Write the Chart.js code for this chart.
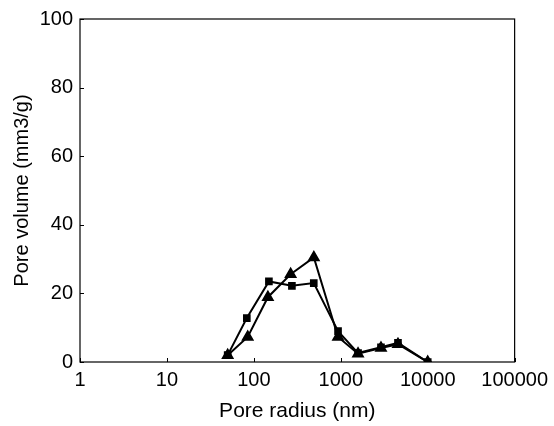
<!DOCTYPE html>
<html>
<head>
<meta charset="utf-8">
<script src="https://cdn.jsdelivr.net/npm/chart.js@4"></script>
<style>
  html, body { margin: 0; padding: 0; background: #fff; }
  #wrap { width: 554px; height: 426px; }
</style>
</head>
<body>
<div id="wrap"><canvas id="mycanvas" width="554" height="426"></canvas></div>
<script>
// pore radius (nm) and pore volume (mm3/g)
var radius = [50, 83, 149, 274, 489, 930, 1580, 2900, 4550, 10000];
var squares = [2, 12.8, 23.5, 22.2, 23, 9, 2.6, 4.3, 5.6, 0];
var triRadius = [50, 85, 145, 265, 490, 930, 1580, 2900, 4550, 10000];
var triangles = [2, 7.3, 18.9, 25.6, 30.5, 7.3, 2.4, 4.1, 5.2, 0];
var xTicks = [1, 10, 100, 1000, 10000, 100000];
var yTicks = [0, 20, 40, 60, 80, 100];

var font = "'Liberation Sans', Arial, Helvetica, sans-serif";

function pts(xs, ys) {
  var out = [];
  for (var i in xs) out.push({ x: xs[i], y: ys[i] });
  return out;
}

// frame box + short inward tick marks
var framePlugin = {
  id: 'frame',
  afterDraw: function(chart) {
    var c = chart.ctx, a = chart.chartArea;
    var sx = chart.scales.x, sy = chart.scales.y;
    c.save();
    c.strokeStyle = '#000';
    c.lineWidth = 1.2;
    c.strokeRect(a.left, a.top, a.right - a.left, a.bottom - a.top);
    c.lineWidth = 1;
    c.beginPath();
    xTicks.forEach(function(v) {
      var px = Math.round(sx.getPixelForValue(v)) + 0.5;
      c.moveTo(px, a.bottom); c.lineTo(px, a.bottom - 4);
    });
    yTicks.forEach(function(v) {
      var py = Math.round(sy.getPixelForValue(v)) + 0.5;
      c.moveTo(a.left, py); c.lineTo(a.left + 4, py);
    });
    c.stroke();
    c.restore();
  }
};

var ctx = document.getElementById('mycanvas').getContext('2d');
var chart = new Chart(ctx, {
  type: 'line',
  data: {
    datasets: [
      {
        label: 'squares',
        data: pts(radius, squares),
        borderColor: '#000',
        backgroundColor: '#000',
        borderWidth: 2,
        pointStyle: 'rect',
        pointRadius: 4,
        fill: false,
        tension: 0
      },
      {
        label: 'triangles',
        data: pts(triRadius, triangles),
        borderColor: '#000',
        backgroundColor: '#000',
        borderWidth: 2,
        pointStyle: 'triangle',
        pointRadius: 5.5,
        fill: false,
        tension: 0
      }
    ]
  },
  options: {
    responsive: false,
    animation: false,
    layout: { padding: { left: 0, right: 38, top: 17, bottom: 0 } },
    plugins: { legend: { display: false }, tooltip: { enabled: false } },
    scales: {
      x: {
        type: 'logarithmic',
        min: 1, max: 100000,
        afterBuildTicks: function(s) { s.ticks = xTicks.map(function(v) { return { value: v }; }); },
        afterFit: function(s) { s.height = 64; },
        grid: { display: false, drawTicks: false },
        border: { display: false },
        ticks: {
          color: '#000', padding: 6, maxRotation: 0, autoSkip: false,
          font: { family: font, size: 20 },
          callback: function(v) { return String(v); }
        },
        title: { display: true, text: 'Pore radius (nm)', color: '#000', font: { family: font, size: 21 }, padding: { top: 4, bottom: 2 } }
      },
      y: {
        min: 0, max: 100,
        afterBuildTicks: function(s) { s.ticks = yTicks.map(function(v) { return { value: v }; }); },
        afterFit: function(s) { s.width = 80; },
        grid: { display: false, drawTicks: false },
        border: { display: false },
        ticks: { color: '#000', padding: 7, font: { family: font, size: 20 } },
        title: { display: true, text: 'Pore volume (mm3/g)', color: '#000', font: { family: font, size: 20 }, padding: { top: 10, bottom: 4 } }
      }
    }
  },
  plugins: [framePlugin]
});
</script>
</body>
</html>
